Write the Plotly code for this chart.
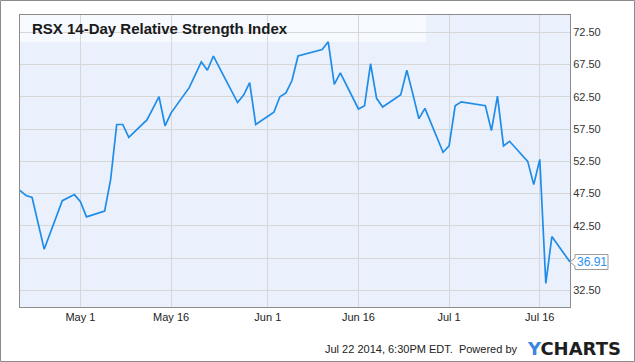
import plotly.graph_objects as go

dates = ["2014-04-21", "2014-04-22", "2014-04-23", "2014-04-24", "2014-04-25",
         "2014-04-28", "2014-04-29", "2014-04-30", "2014-05-01", "2014-05-02",
         "2014-05-05", "2014-05-06", "2014-05-07", "2014-05-08", "2014-05-09",
         "2014-05-12", "2014-05-13", "2014-05-14", "2014-05-15", "2014-05-16",
         "2014-05-19", "2014-05-20", "2014-05-21", "2014-05-22", "2014-05-23",
         "2014-05-27", "2014-05-28", "2014-05-29", "2014-05-30",
         "2014-06-02", "2014-06-03", "2014-06-04", "2014-06-05", "2014-06-06",
         "2014-06-09", "2014-06-10", "2014-06-11", "2014-06-12", "2014-06-13",
         "2014-06-16", "2014-06-17", "2014-06-18", "2014-06-19", "2014-06-20",
         "2014-06-23", "2014-06-24", "2014-06-25", "2014-06-26", "2014-06-27",
         "2014-06-30", "2014-07-01", "2014-07-02", "2014-07-03",
         "2014-07-07", "2014-07-08", "2014-07-09", "2014-07-10", "2014-07-11",
         "2014-07-14", "2014-07-15", "2014-07-16", "2014-07-17", "2014-07-18",
         "2014-07-21"]

rsi = [48.0, 47.2, 46.9, 42.9, 38.9,
       46.4, 46.9, 47.35, 46.25, 43.9,
       44.8, 49.7, 58.2, 58.2, 56.2,
       58.9, 60.7, 62.5, 58.0, 60.0,
       63.9, 65.9, 67.9, 66.6, 68.8,
       61.6, 62.75, 64.7, 58.2,
       60.1, 62.5, 63.1, 65.0, 68.8,
       69.5, 69.8, 71.0, 64.4, 66.2,
       60.6, 61.1, 67.6, 62.25, 60.9,
       62.8, 66.6, 62.9, 59.1, 60.7,
       53.9, 54.9, 61.1, 61.7,
       61.1, 57.25, 62.6, 54.9, 55.6,
       52.5, 48.9, 52.8, 33.6, 40.85,
       36.91]

x_tick_vals = ["2014-05-01", "2014-05-16", "2014-06-01", "2014-06-16", "2014-07-01", "2014-07-16"]
x_tick_text = ["May 1", "May 16", "Jun 1", "Jun 16", "Jul 1", "Jul 16"]
y_tick_vals = [32.5, 37.5, 42.5, 47.5, 52.5, 57.5, 62.5, 67.5, 72.5]
y_tick_text = ["32.50", "", "42.50", "47.50", "52.50", "57.50", "62.50", "67.50", "72.50"]

title_text = "RSX 14-Day Relative Strength Index"
footer_text = "Jul 22 2014, 6:30PM EDT.  Powered by"

LINE = "#1f8ce8"
FONT = "Liberation Sans, Arial, sans-serif"

W, H = 635, 362
ML, MR, MT, MB = 20, 65, 15, 55
PW, PH = W - ML - MR, H - MT - MB


def px(xp):
    return (xp - ML) / PW


def py(yp):
    return (H - MB - yp) / PH


fig = go.Figure()
fig.add_trace(go.Scatter(x=dates, y=rsi, mode="lines",
                         line=dict(color=LINE, width=1.7),
                         hoverinfo="skip", showlegend=False, cliponaxis=False))

last_val = rsi[-1]

fig.update_layout(
    width=W, height=H,
    margin=dict(l=ML, r=MR, t=MT, b=MB, pad=0),
    paper_bgcolor="white",
    plot_bgcolor="#eaf1fc",
    font=dict(family=FONT, size=11, color="#333333"),
    xaxis=dict(type="date", range=[dates[0], dates[-1]],
               tickvals=x_tick_vals, ticktext=x_tick_text,
               showgrid=True, gridcolor="#d7d7d7", gridwidth=1,
               showline=True, linecolor="#8c8c8c", linewidth=1, mirror=True,
               ticks="", zeroline=False, tickfont=dict(size=11, color="#222222")),
    yaxis=dict(range=[29.95, 75.15], side="right",
               tickvals=y_tick_vals, ticktext=y_tick_text,
               showgrid=True, gridcolor="#d7d7d7", gridwidth=1,
               showline=True, linecolor="#8c8c8c", linewidth=1, mirror=True,
               ticks="", zeroline=False, tickfont=dict(size=11, color="#333333")),
    shapes=[
        # title band
        dict(type="rect", xref="paper", yref="paper",
             x0=0, x1=px(426), y0=py(42), y1=1,
             fillcolor="rgba(255,255,255,0.55)", line=dict(width=0), layer="between"),
        # outer frame
        dict(type="rect", xref="paper", yref="paper",
             x0=px(0.5), x1=px(634.5), y0=py(361.5), y1=py(0.5),
             fillcolor="rgba(0,0,0,0)", line=dict(color="#8c8c8c", width=1)),
        # last value callout
        dict(type="path", xref="paper", yref="y",
             xsizemode="pixel", ysizemode="pixel", xanchor=1, yanchor=last_val,
             path="M 5,-7.5 L 38,-7.5 L 38,7.5 L 5,7.5 L 5,4 L 0,0 L 5,-4 Z",
             fillcolor="white", line=dict(color="#9a9a9a", width=1)),
    ],
    annotations=[
        dict(text="<b>" + title_text + "</b>", xref="paper", yref="paper",
             x=px(30), y=py(28.5), xanchor="left", yanchor="middle",
             showarrow=False, font=dict(size=15, color="#1a1a1a", family=FONT)),
        dict(text=f"{last_val:.2f}", xref="paper", yref="y",
             x=1, y=last_val, xanchor="center", yanchor="middle", xshift=22,
             showarrow=False, font=dict(size=12, color="#2a8ff0", family=FONT)),
        dict(text=footer_text, xref="paper", yref="paper",
             x=px(519), y=py(349), xanchor="right", yanchor="middle",
             showarrow=False, font=dict(size=11, color="#222222", family=FONT)),
        dict(text="<b><span style='color:#3b86e0'>Y</span>CHARTS</b>", xref="paper", yref="paper",
             x=px(574), y=py(348), xanchor="center", yanchor="middle",
             showarrow=False, font=dict(size=18, color="#1e1e1e", family="DejaVu Sans, sans-serif")),
    ],
)

fig.write_html("out.html", config={"displayModeBar": False},
               post_script="document.body.style.margin='0';")
